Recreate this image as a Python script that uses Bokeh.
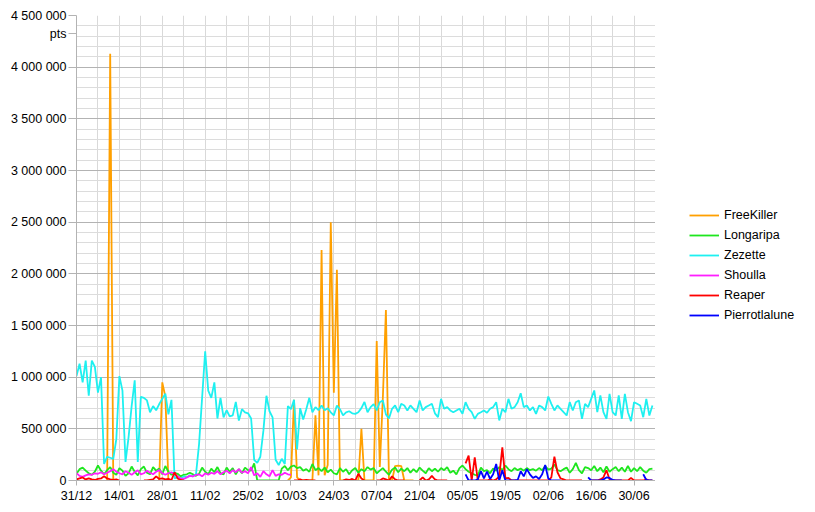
import math
from bokeh.plotting import figure
from bokeh.layouts import row
from bokeh.models import FixedTicker, Legend, LegendItem, Range1d, ColumnDataSource
from bokeh.embed import file_html
from bokeh.resources import INLINE

N = math.nan

# day index 0 = 31/12, one point per day (values in thousands of pts)
x_tick_days = [0, 14, 28, 42, 56, 70, 84, 98, 112, 126, 140, 154, 168, 182]
x_tick_labels = ["31/12", "14/01", "28/01", "11/02", "25/02", "10/03", "24/03",
                 "07/04", "21/04", "05/05", "19/05", "02/06", "16/06", "30/06"]
y_ticks = [0, 500000, 1000000, 1500000, 2000000, 2500000, 3000000, 3500000, 4000000, 4500000]
y_tick_labels = ["0", "500 000", "1 000 000", "1 500 000", "2 000 000", "2 500 000",
                 "3 000 000", "3 500 000", "4 000 000", "4 500 000"]
unit_label = "pts"
unit_label_at = 4325000

series_names = ["FreeKiller", "Longaripa", "Zezette", "Shoulla", "Reaper", "Pierrotlalune"]
series_colors = ["#ffa000", "#1ee61e", "#1ef0f0", "#ff1eff", "#ff0000", "#0000ff"]

freekiller = ([N] * 10 + [0, 4130, 0] + [N] * 14 + [0, 950, 810, 0] + [N] * 38 +
              [0, 30, 780, 30, 0, 0, 0, 0, 0, 630, 50, 2230, 50, 150, 2500, 850, 2040, 0,
               0, 0, 0, 0, 0, 0, 500, 0, 0, 0, 0, 1350, 130, 800, 1650, 0, 0,
               140, 145, 140, 0, 0, 0, 0] + [N] * 78)

longaripa = [65, 110, 125, 95, 70, 55, 85, 145, 95, 60,
             100, 130, 75, 55, 120, 95, 45, 70, 135, 85,
             50, 110, 135, 75, 60, 130, 95, 115, 60, 140,
             85, 55, 75, 65, 40, 55, 60, 75, 60, 45,
             65, 125, 85, 60, 115, 80, 130, 70, 60, 125,
             85, 120, 60, 110, 70, 125, 100, 95, 165, 0,
             0, 0, 0, 0, 0, 0, 0, 115, 140, 100,
             135, 145, 120, 130, 95, 110, 85, 160, 100, 120,
             90, 125, 80, 105, 70, 60, 120, 85, 110, 60,
             100, 120, 75, 110, 90, 130, 105, 120, 70, 95,
             120, 85, 55, 105, 125, 80, 115, 90, 120, 75,
             110, 80, 125, 95, 70, 120, 90, 115, 85, 120,
             100, 130, 75, 95, 60, 120, 145, 110, 85, 70,
             55, 50, 125, 90, 100, 70, 115, 95, 130, 100,
             145, 110, 90, 120, 100, 115, 95, 120, 100, 110,
             95, 120, 100, 140, 105, 115, 155, 100, 90, 110,
             125, 75, 110, 170, 100, 70, 130, 120, 100, 140,
             90, 125, 80, 135, 85, 110, 130, 90, 125, 85,
             140, 85, 120, 90, 130, 95, 75, 110, 115]

zezette = [1010, 1130, 950, 1160, 820, 1160, 1100, 850, 1000, 160,
           230, 220, 210, 400, 1010, 870, 180, 420, 720, 970,
           180, 810, 800, 775, 660, 720, 680, 740, 790, 840,
           640, 780, 20, 30, 20, 40, 30, 50, 40, 60,
           350, 800, 1250, 870, 800, 950, 600, 800, 610, 680,
           620, 630, 760, 580, 690, 660, 650, 600, 200, 170,
           230, 480, 820, 670, 610, 200, 150, 210, 160, 720,
           690, 780, 300, 700, 590, 690, 800, 660, 710, 680,
           726, 680, 700, 660, 630, 726, 690, 630, 660, 670,
           650, 645, 661, 700, 760, 661, 710, 740, 678, 758,
           774, 640, 600, 694, 726, 661, 742, 726, 678, 726,
           694, 661, 774, 678, 710, 726, 742, 650, 613, 790,
           694, 710, 678, 661, 678, 694, 645, 758, 694, 661,
           597, 645, 661, 678, 655, 694, 710, 758, 581, 694,
           661, 790, 694, 710, 758, 845, 710, 726, 678, 710,
           645, 726, 710, 678, 813, 742, 678, 726, 694, 661,
           629, 758, 678, 758, 774, 597, 742, 710, 790, 871,
           661, 823, 661, 597, 839, 661, 629, 823, 597, 839,
           661, 574, 758, 742, 726, 613, 790, 629, 726]

shoulla = ([70, 45, 35, 50, 60, 55, 70, 65, 80, 60,
            75, 90, 110, 85, 70, 60, 90, 75, 55, 80,
            100, 60, 70, 95, 75, 60, 85, 100, 70, 55,
            70, 80, 60, 40, 20, 15, 30, 45, 40, 55,
            60, 40, 70, 55, 75, 65, 90, 60, 80, 95,
            70, 100, 80, 110, 75, 90, 70, 130, 50, 70,
            35, 90, 60, 40, 100, 45, 60, 55, 75, 60,
            55] + [N] * 118)

reaper = ([10, 20, 30, 10, 20, 10, 5, 15, 20, 40, 20, 10, 5, 10, 0] + [N] * 7 +
          [0, 0, 5, 10, 40, 15, 20, 10, 15, 5, 80, 20, 5, 0] + [N] * 35 +
          [0, 0, 10, 0, 5, 0, 0, 0] + [N] * 8 +
          [0, 10, 5, 15, 0, 65, 20, 0] + [N] * 3 +
          [0, 0, 20, 10, 0, 40, 10, 0, 0, 0] + [N] * 4 +
          [0, 30, 0, 10, 45, 10, 0, 0, 0, 0] + [N] * 5 +
          [165, 240, 0, 225, 0, 0, 0, 0, 10, 0, 10, 40, 320, 20, 25, 0,
           0, 0, 0, 0, 0, 0, 0, 0, 0, 0, 0, 0, 30, 230, 80, 20, 10, 0, 0, 0, 0, 0, 0] +
          [N] * 2 +
          [0, 0, 0, 10, 30, 100, 10, 0, 0, 0, 0, 0, 0, 25, 0, 0, 0, 0, 10, 0, 0, 0])

pierrotlalune = ([N] * 127 +
                 [60, 0, 0, 0, 10, 90, 20, 85, 15, 60, 160, 0, 100, 0, 0, 0, 0, 5,
                  90, 40, 110, 60, 25, 40, 15, 60, 150, 20, 0, 0, 0, 0] +
                 [N] * 8 +
                 [30, 0, 0, 0, 0, 10, 30, 25, 5, 0, 0, 0] + [N] * 6 +
                 [60, 5, 0, 0])

all_series = [freekiller, longaripa, zezette, shoulla, reaper, pierrotlalune]
days = list(range(len(zezette)))

FONT = "Liberation Sans"

p = figure(frame_width=579, frame_height=465, output_backend="svg", toolbar_location=None,
           x_range=Range1d(0, 189), y_range=Range1d(0, 4500000),
           min_border_left=76, min_border_right=0, min_border_top=15, min_border_bottom=32)
p.outline_line_color = None
p.background_fill_color = "white"
p.border_fill_color = "white"

# grids
p.xgrid.ticker = FixedTicker(ticks=list(range(0, 190, 7)))
p.xgrid.grid_line_color = "#d9d9d9"
p.ygrid.ticker = FixedTicker(ticks=y_ticks, minor_ticks=list(range(0, 4500001, 100000)))
p.ygrid.grid_line_color = "#b3b3b3"
p.ygrid.minor_grid_line_color = "#dcdcdc"

# axes
p.xaxis.ticker = FixedTicker(ticks=x_tick_days)
p.xaxis.major_label_overrides = dict(zip(x_tick_days, x_tick_labels))
p.yaxis.ticker = FixedTicker(ticks=y_ticks + [unit_label_at])
y_over = dict(zip(y_ticks, y_tick_labels))
y_over[unit_label_at] = unit_label
p.yaxis.major_label_overrides = y_over
for ax in (p.xaxis[0], p.yaxis[0]):
    ax.axis_line_color = "#b3b3b3"
    ax.major_tick_line_color = "#b3b3b3"
    ax.major_tick_in = 0
    ax.minor_tick_line_color = None
    ax.major_label_text_font = FONT
    ax.major_label_text_font_size = "12.5px"
    ax.major_label_text_color = "black"
p.xaxis.major_tick_out = 5
p.xaxis.major_label_standoff = 3
p.yaxis.major_tick_out = 8
p.yaxis.major_label_standoff = 2

for name, color, vals in zip(series_names, series_colors, all_series):
    src = ColumnDataSource(dict(x=days, y=[v * 1000 for v in vals]))
    p.line("x", "y", source=src, line_color=color, line_width=1.8)

# legend panel (separate figure to the right of the plot area)
pl = figure(width=160, height=512, output_backend="svg", toolbar_location=None,
            x_axis_location=None, y_axis_location=None,
            x_range=Range1d(0, 1), y_range=Range1d(0, 1),
            min_border=0)
pl.outline_line_color = None
pl.grid.visible = False
items = []
for name, color in zip(series_names, series_colors):
    r = pl.line(x=[5, 6], y=[5, 6], line_color=color, line_width=1.8)
    items.append(LegendItem(label=name, renderers=[r]))
legend = Legend(items=items, location=(34, 155), glyph_width=30, glyph_height=20,
                label_height=20, spacing=0, padding=0, margin=0,
                border_line_color=None, background_fill_alpha=0,
                label_text_font=FONT, label_text_font_size="12.5px",
                label_standoff=5, label_text_color="black")
pl.add_layout(legend, "center")

layout = row(p, pl)
open("out.html", "w").write(file_html(layout, INLINE))
